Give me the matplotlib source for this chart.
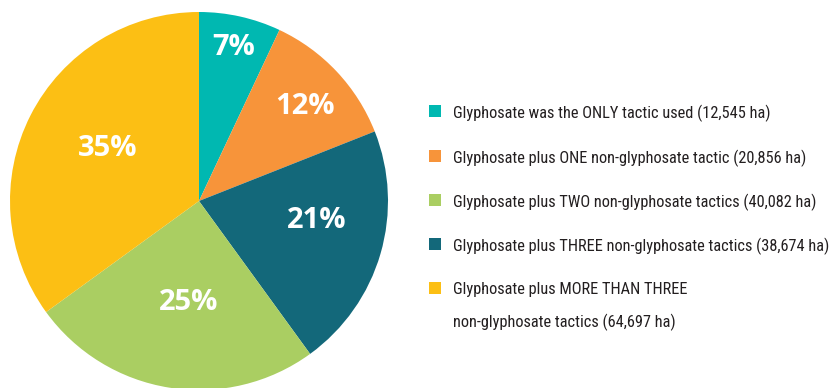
import numpy as np
import matplotlib
matplotlib.use("Agg")
import matplotlib.pyplot as plt
from matplotlib import font_manager
from matplotlib.patches import Rectangle

# slice order is clockwise from 12 o'clock
slice_pcts = [7, 12, 21, 25, 35]
slice_colors = ["#00B8B1", "#F7943A", "#13687A", "#AACE62", "#FCBF14"]

legend_labels = [
    "Glyphosate was the ONLY tactic used (12,545 ha)",
    "Glyphosate plus ONE non-glyphosate tactic (20,856 ha)",
    "Glyphosate plus TWO non-glyphosate tactics (40,082 ha)",
    "Glyphosate plus THREE non-glyphosate tactics (38,674 ha)",
    "Glyphosate plus MORE THAN THREE\nnon-glyphosate tactics (64,697 ha)",
]
legend_colors = ["#00B8B1", "#F7943A", "#AACE62", "#13687A", "#FCBF14"]

# prefer a narrow face for the legend if one is around
installed = {f.name for f in font_manager.fontManager.ttflist}
narrow = next((n for n in ["Liberation Sans Narrow", "DejaVu Sans Condensed",
                           "Roboto Condensed", "Open Sans Condensed", "Roboto"]
               if n in installed), "DejaVu Sans")

W, H = 834, 388
fig = plt.figure(figsize=(W / 100, H / 100), dpi=100)

cx, cy, r = 199, 187, 189
ax = fig.add_axes([(cx - r) / W, (cy - r) / H, 2 * r / W, 2 * r / H])
wedges, _ = ax.pie(slice_pcts, colors=slice_colors, startangle=90,
                   counterclock=False, radius=1,
                   wedgeprops=dict(linewidth=0))
ax.set_xlim(-1, 1)
ax.set_ylim(-1, 1)
ax.set_aspect("equal")
ax.axis("off")

# label placement: distance from centre and small angular nudge per slice
label_dist = [0.83, 0.75, 0.63, 0.54, 0.56]
label_nudge = [0, -1.5, 7, 3, -3]
for w, pct, d, nd in zip(wedges, slice_pcts, label_dist, label_nudge):
    mid = np.deg2rad((w.theta1 + w.theta2) / 2 + nd)
    ax.text(d * np.cos(mid), d * np.sin(mid), f"{pct}%", ha="center",
            va="center", color="white", fontsize=21, fontweight="bold",
            family=["Open Sans", "DejaVu Sans"])

# legend drawn by hand in pixel coordinates
row_y = [111, 156, 200, 244, 288]
texts = []
for y, lab, col in zip(row_y, legend_labels, legend_colors):
    fig.patches.append(Rectangle((429 / W, (H - y - 6) / H), 12 / W, 12 / H,
                                 transform=fig.transFigure, color=col,
                                 linewidth=0))
    lines = lab.split("\n")
    for k, line in enumerate(lines):
        texts.append(fig.text(453 / W, (H - y - 32 * k) / H, line, ha="left",
                              va="center_baseline", fontsize=12,
                              color="#231F20", family=[narrow, "DejaVu Sans"]))

# size the legend text so the longest row ends near the right edge
renderer = fig.canvas.get_renderer()
widest = max(t.get_window_extent(renderer).width for t in texts)
size = min(13.0, 12 * 376 / widest)
for t in texts:
    t.set_fontsize(size)

fig.savefig("out.png", dpi=100)
